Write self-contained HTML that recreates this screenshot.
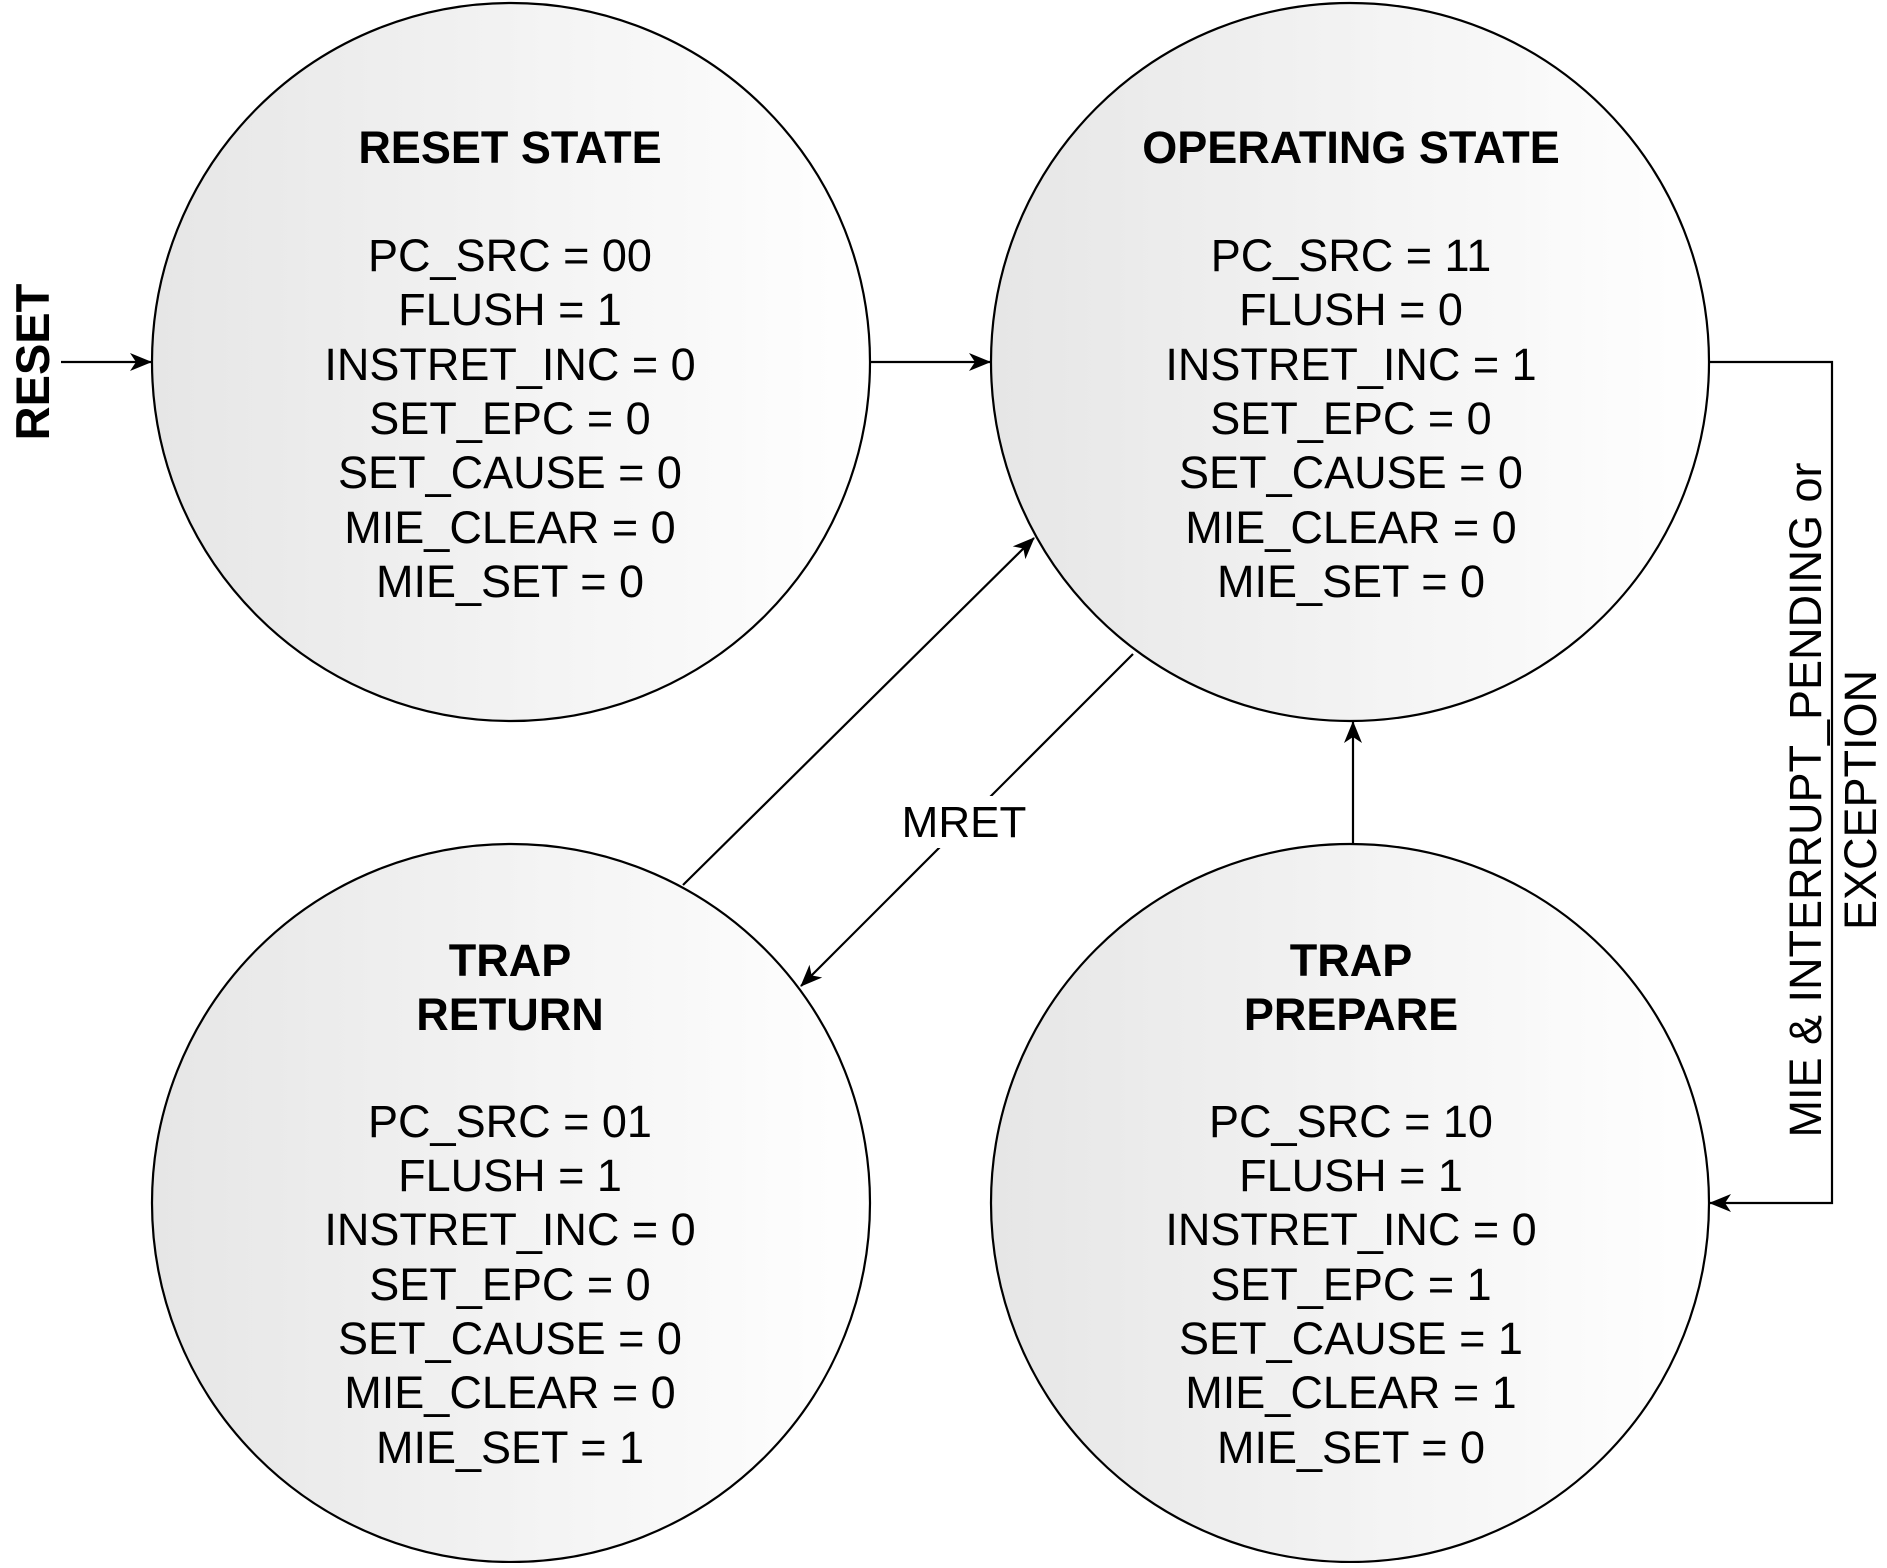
<!DOCTYPE html>
<html><head><meta charset="utf-8"><style>html,body{margin:0;padding:0;background:#fff}</style></head>
<body>
<svg width="1887" height="1563" viewBox="0 0 1887 1563" xmlns="http://www.w3.org/2000/svg" font-family="Liberation Sans, sans-serif">
<defs>
<linearGradient id="g" x1="0" y1="0" x2="1" y2="0"><stop offset="0" stop-color="#e6e6e6"/><stop offset="1" stop-color="#ffffff"/></linearGradient>
<marker id="a" markerWidth="22" markerHeight="22" refX="21" refY="11" orient="auto" markerUnits="userSpaceOnUse"><path d="M0,2 L22,11 L0,20 L6,11 Z" fill="#000"/></marker>
</defs>
<g stroke="#000" stroke-width="2.2" fill="url(#g)">
<circle cx="511" cy="362" r="359"/>
<circle cx="1350" cy="362" r="359"/>
<circle cx="511" cy="1203" r="359"/>
<circle cx="1350" cy="1203" r="359"/>
</g>
<g stroke="#000" stroke-width="2.2" fill="none">
<line x1="61" y1="362" x2="151" y2="362" marker-end="url(#a)"/>
<line x1="870" y1="362" x2="990" y2="362" marker-end="url(#a)"/>
<polyline points="1709,362 1832,362 1832,1203 1710,1203" marker-end="url(#a)"/>
<line x1="1353" y1="844" x2="1353" y2="722" marker-end="url(#a)"/>
<line x1="683" y1="885" x2="1034" y2="538" marker-end="url(#a)"/>
<line x1="1133" y1="654" x2="801" y2="986" marker-end="url(#a)"/>
</g>
<rect x="895" y="796" width="130" height="52" fill="#fff"/>
<text x="964" y="837" font-size="44" text-anchor="middle">MRET</text>
<text transform="translate(49,362) rotate(-90)" font-size="47" font-weight="bold" text-anchor="middle">RESET</text>
<text transform="translate(1821,800) rotate(-90)" font-size="45" text-anchor="middle">MIE &amp; INTERRUPT_PENDING or</text>
<text transform="translate(1876,800) rotate(-90)" font-size="45" text-anchor="middle">EXCEPTION</text>
<g font-size="45" text-anchor="middle">
<text x="510" y="163" font-weight="bold">RESET STATE</text>
<text x="510" y="271">PC_SRC = 00</text><text x="510" y="325">FLUSH = 1</text><text x="510" y="380">INSTRET_INC = 0</text><text x="510" y="434">SET_EPC = 0</text><text x="510" y="488">SET_CAUSE = 0</text><text x="510" y="543">MIE_CLEAR = 0</text><text x="510" y="597">MIE_SET = 0</text>
<text x="1351" y="163" font-weight="bold">OPERATING STATE</text>
<text x="1351" y="271">PC_SRC = 11</text><text x="1351" y="325">FLUSH = 0</text><text x="1351" y="380">INSTRET_INC = 1</text><text x="1351" y="434">SET_EPC = 0</text><text x="1351" y="488">SET_CAUSE = 0</text><text x="1351" y="543">MIE_CLEAR = 0</text><text x="1351" y="597">MIE_SET = 0</text>
<text x="510" y="976" font-weight="bold">TRAP</text><text x="510" y="1030" font-weight="bold">RETURN</text>
<text x="510" y="1137">PC_SRC = 01</text><text x="510" y="1191">FLUSH = 1</text><text x="510" y="1245">INSTRET_INC = 0</text><text x="510" y="1300">SET_EPC = 0</text><text x="510" y="1354">SET_CAUSE = 0</text><text x="510" y="1408">MIE_CLEAR = 0</text><text x="510" y="1463">MIE_SET = 1</text>
<text x="1351" y="976" font-weight="bold">TRAP</text><text x="1351" y="1030" font-weight="bold">PREPARE</text>
<text x="1351" y="1137">PC_SRC = 10</text><text x="1351" y="1191">FLUSH = 1</text><text x="1351" y="1245">INSTRET_INC = 0</text><text x="1351" y="1300">SET_EPC = 1</text><text x="1351" y="1354">SET_CAUSE = 1</text><text x="1351" y="1408">MIE_CLEAR = 1</text><text x="1351" y="1463">MIE_SET = 0</text>
</g>
</svg>
</body></html>
